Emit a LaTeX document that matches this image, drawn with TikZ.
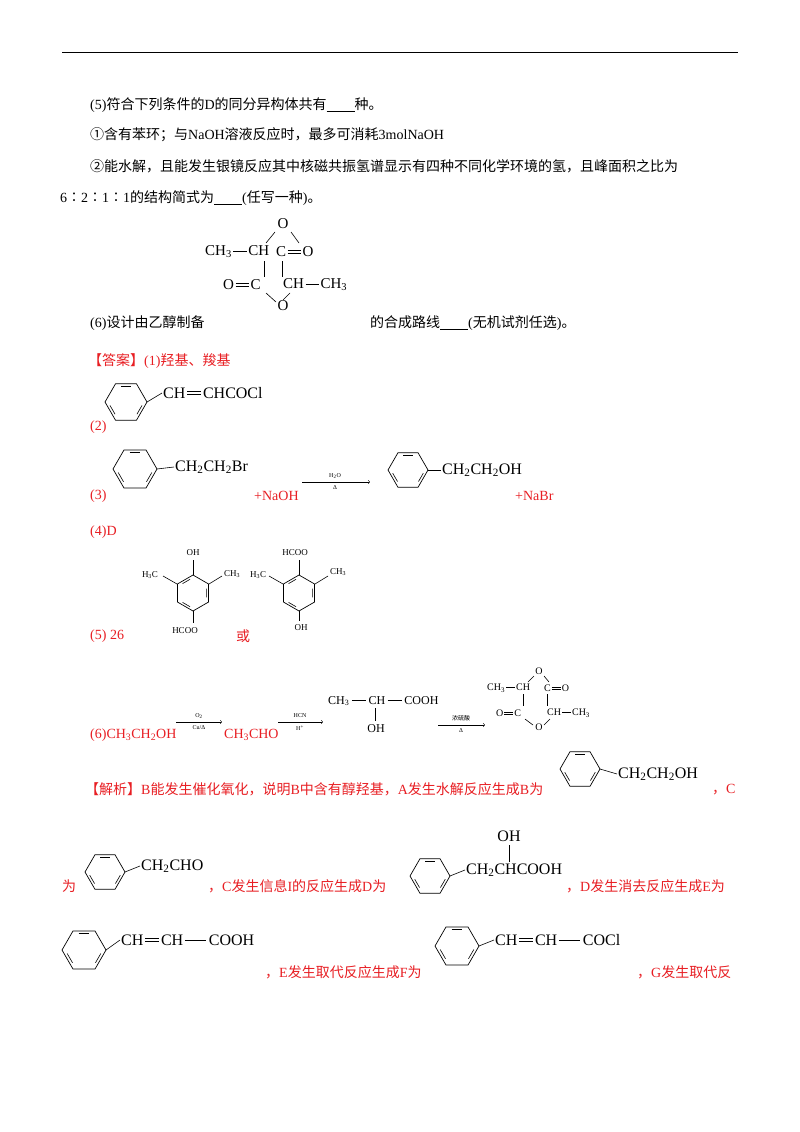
\documentclass[tikz,border=0pt]{standalone}
\usepackage{fontspec}
\setmainfont{Liberation Serif}
\newfontfamily\cjk{Noto Sans CJK SC}
\definecolor{ansred}{RGB}{232,30,35}
\newcommand\zh[1]{{\cjk #1}}
\newcommand\bd{\kern0.1em\rule[0.32em]{0.9em}{0.5pt}\kern0.1em}
\newcommand\dbd{\kern0.1em\rlap{\rule[0.22em]{0.9em}{0.5pt}}\rule[0.42em]{0.9em}{0.5pt}\kern0.1em}
\newcommand\sub[1]{\textsubscript{#1}}
\newcommand\benz[4]{%
 \draw[shift={(#1,#2)},rotate=#4,line width=0.7pt] (0:#3)--(60:#3)--(120:#3)--(180:#3)--(240:#3)--(300:#3)--cycle;
 \foreach \a in {0,120,240}{\draw[shift={(#1,#2)},rotate=#4,line width=0.6pt] ({\a+12}:{0.78*#3})--({\a+48}:{0.78*#3});}}
\tikzset{t/.style={anchor=west,inner sep=0pt,font=\fontsize{14}{16}\selectfont},
 r/.style={t,text=ansred},
 ch/.style={anchor=west,inner sep=0pt,font=\fontsize{16}{18}\selectfont},
 chs/.style={anchor=center,inner sep=0pt,font=\fontsize{9}{10}\selectfont},
 sm/.style={inner sep=0pt,font=\fontsize{6}{7}\selectfont},
 bond/.style={line width=0.6pt}}
\begin{document}
\begin{tikzpicture}[x=1pt,y=-1pt]
\useasboundingbox (0,0) rectangle (800,1132);
\fill[white] (0,0) rectangle (800,1132);
\draw[line width=1pt] (62,53)--(738,53);
\node[t] (l1) at (90,105) {(5)\zh{符合下列条件的}D\zh{的同分异构体共有}\underline{\hphantom{0000}}\zh{种。}};
\node[t] (l2) at (90,135) {\zh{①含有苯环；与}NaOH\zh{溶液反应时，最多可消耗}3molNaOH};
\node[t] (l3) at (90,166) {\zh{②能水解，且能发生银镜反应其中核磁共振氢谱显示有四种不同化学环境的氢，且峰面积之比为}};
\node[t] (l4) at (60,198) {6\zh{∶}2\zh{∶}1\zh{∶}1\zh{的结构简式为}\underline{\hphantom{0000}}(\zh{任写一种})\zh{。}};
\begin{scope}[every node/.style={ch,font=\fontsize{15}{17}\selectfont}]
\node[anchor=center] (o1) at (283,224) {O};
\node (a1) at (205,252) {CH\sub{3}\bd CH};
\node (a2) at (276,252) {C\dbd O};
\node (a3) at (223,285) {O\dbd C};
\node (a4) at (283,285) {CH\bd CH\sub{3}};
\node[anchor=center] (o2) at (283,306) {O};
\end{scope}
\draw[bond] (275,232)--(266,243); \draw[bond] (291,232)--(299,243);
\draw[bond] (264,261)--(264,277); \draw[bond] (282,261)--(282,277);
\draw[bond] (266,293)--(276,302); \draw[bond] (290,293)--(283,300);
\node[t] (l5) at (90,323) {(6)\zh{设计由乙醇制备}};
\node[t] (l6) at (370,323) {\zh{的合成路线}\underline{\hphantom{0000}}(\zh{无机试剂任选})\zh{。}};
\node[r] (ans) at (88,361) {\zh{【答案】}(1)\zh{羟基、羧基}};
\benz{126}{402}{21}{0}
\draw[bond] (147,402)--(162,393);
\node[ch] (c2) at (163,393) {CH\dbd CHCOCl};
\node[r] (n2) at (90,427) {(2)};
\benz{135}{469}{22}{0}
\draw[bond] (157,469)--(174,467);
\node[ch] (c3) at (175,467) {CH\sub{2}CH\sub{2}Br};
\node[r] (n3) at (90,496) {(3)};
\node[r] (naoh) at (254,496) {+NaOH};
\draw[->,line width=0.5pt] (302,482)--(370,482);
\node[sm] (h2o) at (335,476) {H\sub{2}O};
\node[sm] (dl) at (335,488) {Δ};
\benz{408}{470}{20}{0}
\draw[bond] (428,470)--(441,470);
\node[ch] (c4) at (442,470) {CH\sub{2}CH\sub{2}OH};
\node[r] (nabr) at (515,496) {+NaBr};
\node[r] (n4) at (90,532) {(4)D};
\benz{193}{593}{18}{30}
\draw[bond] (193,575)--(193,560); \draw[bond] (177,584)--(163,576); \draw[bond] (209,584)--(222,576); \draw[bond] (193,611)--(193,623);
\node[chs] (s1) at (193,553) {OH}; \node[chs] (s2) at (150,575) {H\sub{3}C}; \node[chs] (s3) at (232,574) {CH\sub{3}}; \node[chs] (s4) at (185,631) {HCOO};
\benz{299}{593}{18}{30}
\draw[bond] (299,575)--(299,560); \draw[bond] (283,584)--(269,576); \draw[bond] (315,584)--(328,576); \draw[bond] (299,611)--(299,621);
\node[chs] (s5) at (295,553) {HCOO}; \node[chs] (s6) at (258,575) {H\sub{3}C}; \node[chs] (s7) at (338,572) {CH\sub{3}}; \node[chs] (s8) at (301,628) {OH};
\node[r] (n5) at (90,636) {(5) 26};
\node[r] (huo) at (236,636) {\zh{或}};
\node[r] (e1) at (90,735) {(6)CH\sub{3}CH\sub{2}OH};
\draw[->,line width=0.5pt] (176,722)--(222,722);
\node[sm] (o2l) at (199,716) {O\sub{2}}; \node[sm] (cul) at (199,728) {Cu/Δ};
\node[r] (e2) at (224,735) {CH\sub{3}CHO};
\draw[->,line width=0.5pt] (278,722)--(323,722);
\node[sm] (hcn) at (300,716) {HCN}; \node[sm] (hp) at (300,728) {H\textsuperscript{+}};
\node[ch,font=\fontsize{12}{14}\selectfont] (e3) at (328,701) {CH\sub{3}\kern0.2em\rule[0.3em]{1.2em}{0.5pt}\kern0.2em CH\kern0.2em\rule[0.3em]{1.2em}{0.5pt}\kern0.2em COOH};
\draw[bond] (375,708)--(375,721);
\node[chs,font=\fontsize{12}{14}\selectfont] (e4) at (376,729) {OH};
\draw[->,line width=0.5pt] (438,725)--(485,725);
\node[sm] (h2so4) at (461,718) {\zh{浓硫酸}}; \node[sm] (dl2) at (461,731) {Δ};
\begin{scope}[every node/.style={anchor=west,inner sep=0pt,font=\fontsize{10}{12}\selectfont}]
\node[anchor=center] (p1) at (539,671) {O};
\node (p2) at (487,688) {CH\sub{3}\bd CH};
\node (p3) at (544,688) {C\dbd O};
\node (p4) at (496,713) {O\dbd C};
\node (p5) at (547,713) {CH\bd CH\sub{3}};
\node[anchor=center] (p6) at (539,727) {O};
\end{scope}
\draw[bond] (534,676)--(528,682); \draw[bond] (544,676)--(549,682);
\draw[bond] (523,694)--(523,706); \draw[bond] (547,694)--(547,706);
\draw[bond] (525,719)--(533,725); \draw[bond] (550,719)--(544,725);
\node[r] (x1) at (85,789) {\zh{【解析】}B\zh{能发生催化氧化，说明}B\zh{中含有醇羟基，}A\zh{发生水解反应生成}B\zh{为}};
\benz{580}{769}{20}{0}
\draw[bond] (600,769)--(617,774);
\node[ch] (b1) at (618,774) {CH\sub{2}CH\sub{2}OH};
\node[r] (x2) at (712,790) {\zh{，}C};
\node[r] (x3) at (62,886) {\zh{为}};
\benz{105}{872}{20}{0}
\draw[bond] (125,872)--(140,866);
\node[ch] (b2) at (141,866) {CH\sub{2}CHO};
\node[r] (x4) at (208,886) {\zh{，}C\zh{发生信息}I\zh{的反应生成}D\zh{为}};
\benz{430}{876}{20}{0}
\draw[bond] (450,876)--(465,870);
\node[ch] (b3) at (466,870) {CH\sub{2}CHCOOH};
\draw[bond] (509,845)--(509,862);
\node[ch,anchor=center] (b4) at (509,836) {OH};
\node[r] (x5) at (566,886) {\zh{，}D\zh{发生消去反应生成}E\zh{为}};
\benz{84}{950}{22}{0}
\draw[bond] (106,950)--(120,940);
\node[ch] (b5) at (121,940) {CH\dbd CH\kern0.1em\rule[0.32em]{1.3em}{0.5pt}\kern0.2em COOH};
\node[r] (x6) at (265,972) {\zh{，}E\zh{发生取代反应生成}F\zh{为}};
\benz{457}{946}{22}{0}
\draw[bond] (479,946)--(494,940);
\node[ch] (b6) at (495,940) {CH\dbd CH\kern0.1em\rule[0.32em]{1.3em}{0.5pt}\kern0.2em COCl};
\node[r] (x7) at (637,972) {\zh{，}G\zh{发生取代反}};
\end{tikzpicture}
\end{document}
